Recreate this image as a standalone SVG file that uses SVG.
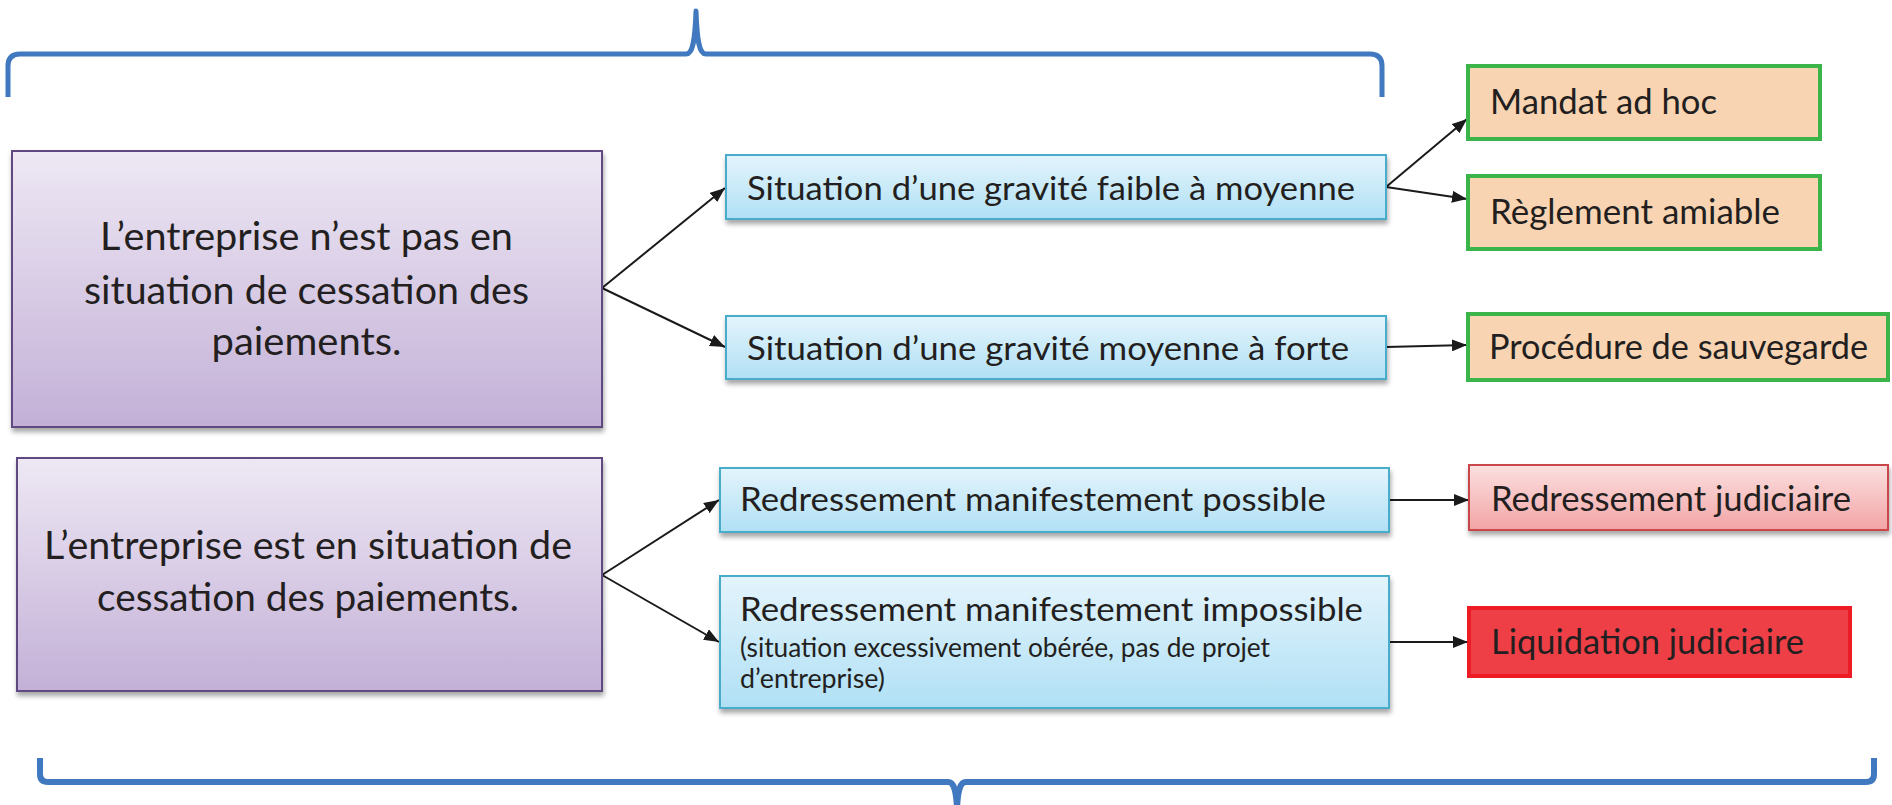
<svg xmlns="http://www.w3.org/2000/svg" width="1892" height="805" viewBox="0 0 1892 805">
<defs>
<linearGradient id="gPurple" x1="0" y1="0" x2="0" y2="1">
<stop offset="0" stop-color="#eee8f4"/>
<stop offset="1" stop-color="#c3b0d7"/>
</linearGradient>
<linearGradient id="gBlue" x1="0" y1="0" x2="0" y2="1">
<stop offset="0" stop-color="#e4f4fc"/>
<stop offset="1" stop-color="#b0e0f5"/>
</linearGradient>
<linearGradient id="gPink" x1="0" y1="0" x2="0" y2="1">
<stop offset="0" stop-color="#fbe0e0"/>
<stop offset="1" stop-color="#f3a4a5"/>
</linearGradient>
<filter id="shadow" x="-5%" y="-10%" width="110%" height="130%">
<feDropShadow dx="1" dy="4" stdDeviation="2.5" flood-color="#000" flood-opacity="0.35"/>
</filter>
<marker id="arrow" viewBox="0 0 10 8" markerUnits="userSpaceOnUse" markerWidth="15" markerHeight="12" refX="10" refY="4" orient="auto">
<path d="M0,0 L10,4 L0,8 z" fill="#1a1a1a"/>
</marker>
</defs>
<style>
text{font-family:"Lato","Liberation Sans",sans-serif;fill:#231f20}
.purple{fill:url(#gPurple);stroke:#5f4a80;stroke-width:2;filter:url(#shadow)}
.blue{fill:url(#gBlue);stroke:#4aaccb;stroke-width:2;filter:url(#shadow)}
.green{fill:#f8d4b3;stroke:#3bb44a;stroke-width:4}
.pink{fill:url(#gPink);stroke:#c9474b;stroke-width:2;filter:url(#shadow)}
.red{fill:#ee3f47;stroke:#ed1c24;stroke-width:4}
.big{font-size:39px}
.mid{font-size:33px}
.rt{font-size:34px}
.small{font-size:26px}
.brace{fill:none;stroke:#4079bf;stroke-width:5;stroke-linecap:butt;stroke-linejoin:round}
.conn line{stroke:#1a1a1a;stroke-width:2;marker-end:url(#arrow)}
</style>
<rect width="1892" height="805" fill="#ffffff"/>

<g id="brace-top">
<path class="brace" d="M8 97 L8 66 Q8 54 20 54 L686 54 C693 54 695 40 696 11 C697 40 699 54 706 54 L1370 54 Q1382 54 1382 66 L1382 97"/>
</g>
<g id="brace-bottom">
<path class="brace" style="stroke-width:6" d="M40 758 L40 774 Q40 782 48 782 L948 782 C954 782 956 790 957 808 C958 790 960 782 966 782 L1866 782 Q1874 782 1874 774 L1874 758"/>
</g>

<g class="conn" id="connectors">
<line x1="602" y1="288" x2="725" y2="188"/>
<line x1="602" y1="288" x2="725" y2="347"/>
<line x1="1386" y1="187" x2="1467" y2="119"/>
<line x1="1386" y1="187" x2="1467" y2="199"/>
<line x1="1386" y1="347" x2="1467" y2="345"/>
<line x1="602" y1="575" x2="719" y2="500"/>
<line x1="602" y1="575" x2="719" y2="642"/>
<line x1="1389" y1="500" x2="1469" y2="500"/>
<line x1="1389" y1="642" x2="1468" y2="642"/>
</g>

<g id="node-pas-cessation">
<rect class="purple" x="12" y="151" width="590" height="276"/>
<text class="big" x="306.5" y="250" text-anchor="middle" textLength="413" lengthAdjust="spacingAndGlyphs">L’entreprise n’est pas en</text>
<text class="big" x="306.5" y="304" text-anchor="middle" textLength="445" lengthAdjust="spacingAndGlyphs">situation de cessation des</text>
<text class="big" x="306.5" y="355" text-anchor="middle" textLength="190" lengthAdjust="spacingAndGlyphs">paiements.</text>
</g>

<g id="node-cessation">
<rect class="purple" x="17" y="458" width="585" height="233"/>
<text class="big" x="308" y="559" text-anchor="middle" textLength="528" lengthAdjust="spacingAndGlyphs">L’entreprise est en situation de</text>
<text class="big" x="308" y="611" text-anchor="middle" textLength="422" lengthAdjust="spacingAndGlyphs">cessation des paiements.</text>
</g>

<g id="node-faible">
<rect class="blue" x="726" y="155" width="660" height="64"/>
<text class="mid" x="747" y="200" textLength="608" lengthAdjust="spacingAndGlyphs">Situation d’une gravité faible à moyenne</text>
</g>

<g id="node-forte">
<rect class="blue" x="726" y="316" width="660" height="63"/>
<text class="mid" x="747" y="360" textLength="602" lengthAdjust="spacingAndGlyphs">Situation d’une gravité moyenne à forte</text>
</g>

<g id="node-possible">
<rect class="blue" x="720" y="468" width="669" height="64"/>
<text class="mid" x="740" y="511" textLength="586" lengthAdjust="spacingAndGlyphs">Redressement manifestement possible</text>
</g>

<g id="node-impossible">
<rect class="blue" x="720" y="576" width="669" height="132"/>
<text class="mid" x="740" y="621" textLength="623" lengthAdjust="spacingAndGlyphs">Redressement manifestement impossible</text>
<text class="small" x="740" y="657" textLength="530" lengthAdjust="spacingAndGlyphs">(situation excessivement obérée, pas de projet</text>
<text class="small" x="740" y="688" textLength="145" lengthAdjust="spacingAndGlyphs">d’entreprise)</text>
</g>

<g id="node-mandat">
<rect class="green" x="1468" y="66" width="352" height="73"/>
<text class="rt" x="1490" y="114" textLength="227" lengthAdjust="spacingAndGlyphs">Mandat ad hoc</text>
</g>

<g id="node-reglement">
<rect class="green" x="1468" y="176" width="352" height="73"/>
<text class="rt" x="1490" y="224" textLength="290" lengthAdjust="spacingAndGlyphs">Règlement amiable</text>
</g>

<g id="node-sauvegarde">
<rect class="green" x="1468" y="314" width="420" height="66"/>
<text class="rt" x="1489" y="359" textLength="379" lengthAdjust="spacingAndGlyphs">Procédure de sauvegarde</text>
</g>

<g id="node-redressement">
<rect class="pink" x="1469" y="465" width="419" height="65"/>
<text class="rt" x="1491" y="511" textLength="360" lengthAdjust="spacingAndGlyphs">Redressement judiciaire</text>
</g>

<g id="node-liquidation">
<rect class="red" x="1469" y="608" width="381" height="68"/>
<text class="rt" x="1491" y="654" textLength="313" lengthAdjust="spacingAndGlyphs">Liquidation judiciaire</text>
</g>
</svg>
